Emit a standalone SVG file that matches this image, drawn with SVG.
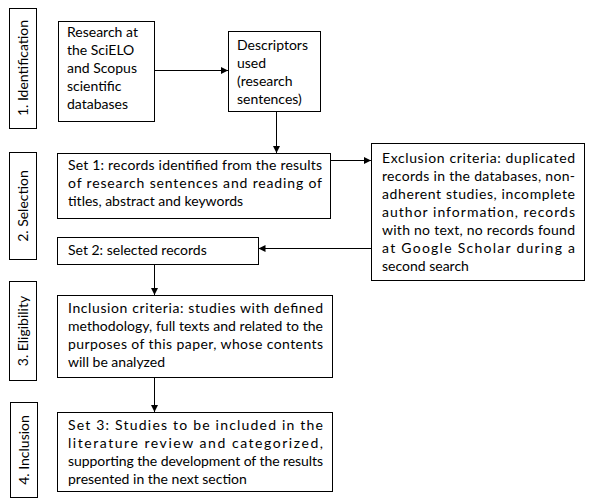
<svg xmlns="http://www.w3.org/2000/svg" width="594" height="504" viewBox="0 0 594 504">
<style>
rect{fill:#fff;stroke:#000;stroke-width:1}
rect.bg{stroke:none}
text{font-family:Lato,"Liberation Sans",sans-serif;font-size:14px;fill:#000}
.c line{stroke:#000;stroke-width:1}
.v{text-anchor:middle}
</style>
<defs>
<marker id="a" markerWidth="8" markerHeight="8" refX="7" refY="4" orient="auto" markerUnits="userSpaceOnUse"><path d="M0,0.5 L7,4 L0,7.5 z" fill="#000"/></marker>
</defs>
<rect class="bg" width="594" height="504"/>
<g id="stage1"><rect x="9.5" y="8.5" width="27" height="120"/><text class="v" transform="translate(28,68) rotate(-90)">1. Identification</text></g>
<g id="stage2"><rect x="9.5" y="152.5" width="27" height="107"/><text class="v" transform="translate(28,206) rotate(-90)">2. Selection</text></g>
<g id="stage3"><rect x="9.5" y="281.5" width="27" height="99"/><text class="v" transform="translate(28,331) rotate(-90)">3. Eligibility</text></g>
<g id="stage4"><rect x="10.5" y="402.5" width="27" height="95"/><text class="v" transform="translate(29,450) rotate(-90)">4. Inclusion</text></g>
<g id="research"><rect x="58.5" y="21.5" width="96" height="100"/>
<text x="67" y="37">Research at</text><text x="67" y="55">the SciELO</text><text x="67" y="73">and Scopus</text><text x="67" y="91">scientific</text><text x="67" y="109">databases</text></g>
<g id="descriptors"><rect x="228.5" y="31.5" width="92" height="80"/>
<text x="237" y="50">Descriptors</text><text x="237" y="68">used</text><text x="237" y="86">(research</text><text x="237" y="104">sentences)</text></g>
<g id="set1"><rect x="57.5" y="153.5" width="273" height="65"/>
<text x="68" y="170" textLength="254" lengthAdjust="spacing">Set 1: records identified from the results</text>
<text x="68" y="188" textLength="254" lengthAdjust="spacing">of research sentences and reading of</text>
<text x="68" y="206">titles, abstract and keywords</text></g>
<g id="exclusion"><rect x="371.5" y="143.5" width="213" height="137"/>
<text x="382" y="163" textLength="193" lengthAdjust="spacing">Exclusion criteria: duplicated</text>
<text x="382" y="181" textLength="193" lengthAdjust="spacing">records in the databases, non-</text>
<text x="382" y="199" textLength="193" lengthAdjust="spacing">adherent studies, incomplete</text>
<text x="382" y="217" textLength="193" lengthAdjust="spacing">author information, records</text>
<text x="382" y="235" textLength="193" lengthAdjust="spacing">with no text, no records found</text>
<text x="382" y="253" textLength="193" lengthAdjust="spacing">at Google Scholar during a</text>
<text x="382" y="271">second search</text></g>
<g id="set2"><rect x="57.5" y="237.5" width="201" height="27"/>
<text x="68" y="255">Set 2: selected records</text></g>
<g id="inclusion"><rect x="57.5" y="295.5" width="275" height="82"/>
<text x="68" y="313" textLength="255" lengthAdjust="spacing">Inclusion criteria: studies with defined</text>
<text x="68" y="331" textLength="255" lengthAdjust="spacing">methodology, full texts and related to the</text>
<text x="68" y="349" textLength="255" lengthAdjust="spacing">purposes of this paper, whose contents</text>
<text x="68" y="367">will be analyzed</text></g>
<g id="set3"><rect x="57.5" y="412.5" width="275" height="79"/>
<text x="68" y="430" textLength="255" lengthAdjust="spacing">Set 3: Studies to be included in the</text>
<text x="68" y="448" textLength="255" lengthAdjust="spacing">literature review and categorized,</text>
<text x="68" y="466" textLength="255" lengthAdjust="spacing">supporting the development of the results</text>
<text x="68" y="484">presented in the next section</text></g>
<g id="connectors" class="c">
<line x1="154.5" y1="70.5" x2="228" y2="70.5" marker-end="url(#a)"/>
<line x1="276.5" y1="111.5" x2="276.5" y2="153" marker-end="url(#a)"/>
<line x1="330.5" y1="160.5" x2="371" y2="160.5" marker-end="url(#a)"/>
<line x1="371.5" y1="248.5" x2="258.5" y2="248.5" marker-end="url(#a)"/>
<line x1="154.5" y1="264.5" x2="154.5" y2="295" marker-end="url(#a)"/>
<line x1="154.5" y1="377.5" x2="154.5" y2="412" marker-end="url(#a)"/>
</g>
</svg>
